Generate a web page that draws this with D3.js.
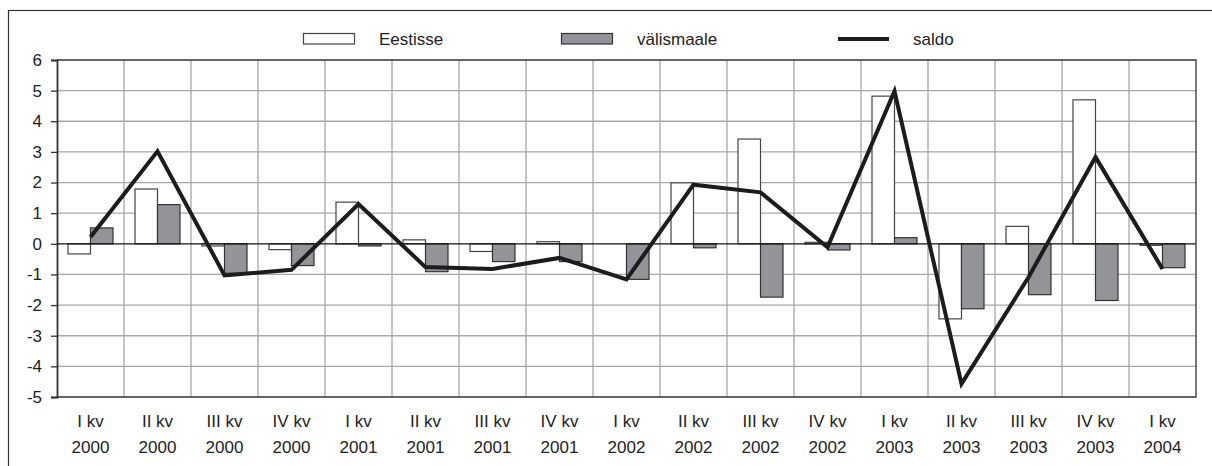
<!DOCTYPE html>
<html>
<head>
<meta charset="utf-8">
<script src="https://cdn.jsdelivr.net/npm/d3@7"></script>
<style>
  html, body { margin: 0; padding: 0; background: #fff; }
  svg { display: block; font-family: "Liberation Sans", Arial, sans-serif; }
</style>
</head>
<body>
<svg id="chart" width="1212" height="466"></svg>
<script>
const quarters = ["I kv", "II kv", "III kv", "IV kv", "I kv", "II kv", "III kv", "IV kv", "I kv", "II kv", "III kv", "IV kv", "I kv", "II kv", "III kv", "IV kv", "I kv"];
const years = ["2000", "2000", "2000", "2000", "2001", "2001", "2001", "2001", "2002", "2002", "2002", "2002", "2003", "2003", "2003", "2003", "2004"];
const eestisse = [-0.33, 1.79, -0.07, -0.19, 1.36, 0.13, -0.25, 0.07, 0, 1.99, 3.42, 0.05, 4.82, -2.45, 0.57, 4.70, -0.05];
const valismaale = [0.52, 1.28, -0.96, -0.71, -0.07, -0.91, -0.58, -0.58, -1.16, -0.13, -1.74, -0.20, 0.20, -2.12, -1.66, -1.85, -0.78];
const saldo = [0.22, 3.02, -1.03, -0.85, 1.30, -0.76, -0.82, -0.46, -1.16, 1.93, 1.68, -0.11, 4.98, -4.57, -1.09, 2.83, -0.82];
const yTicks = [6, 5, 4, 3, 2, 1, 0, -1, -2, -3, -4, -5];
const seriesNames = ["Eestisse", "välismaale", "saldo"];

const svg = d3.select("#chart");
const L = 57, R = 1196, T = 60, B = 397;
const idx = d3.range(quarters.length);

const x = d3.scaleBand().domain(idx).range([L, R]).padding(0);
const y = d3.scaleLinear().domain([-5, 6]).range([B, T]);
const half = 22.5;
const sub = d3.scaleBand().domain(["e", "v"]).range([-half, half]).padding(0);
const cx = i => x(i) + x.bandwidth() / 2;

// outer frame
svg.append("rect").attr("x", 8.5).attr("y", 10.5).attr("width", 1240).attr("height", 480)
  .attr("fill", "none").attr("stroke", "#333").attr("stroke-width", 1.2);

// horizontal gridlines
svg.append("g").selectAll("line").data(yTicks.filter(t => t !== 0 && t !== 6 && t !== -5)).join("line")
  .attr("x1", L).attr("x2", R).attr("y1", d => y(d)).attr("y2", d => y(d))
  .attr("stroke", "#a8a8a8").attr("stroke-width", 1.3);

// vertical gridlines
svg.append("g").selectAll("line").data(idx.slice(1)).join("line")
  .attr("x1", d => x(d)).attr("x2", d => x(d)).attr("y1", T).attr("y2", B)
  .attr("stroke", "#a8a8a8").attr("stroke-width", 1.3);

// plot border (top, right, bottom)
svg.append("path")
  .attr("d", `M${L},${T}H${R}V${B}H${L}`)
  .attr("fill", "none").attr("stroke", "#333").attr("stroke-width", 1.3);

// y axis
const yAxis = d3.axisLeft(y).tickValues(yTicks).tickSize(6).tickPadding(9).tickFormat(d => String(d));
const ya = svg.append("g").attr("transform", `translate(${L},0)`).call(yAxis);
ya.select(".domain").attr("stroke", "#333").attr("stroke-width", 1.8);
ya.selectAll(".tick line").attr("stroke", "#333").attr("stroke-width", 1.3);
ya.selectAll(".tick text").attr("font-size", 17).attr("fill", "#222")
  .attr("font-family", "'Liberation Sans', Arial, sans-serif");

// bars
const g = svg.append("g");
g.selectAll("rect.e").data(idx).join("rect").attr("class", "e")
  .attr("x", i => cx(i) + sub("e")).attr("width", sub.bandwidth())
  .attr("y", i => y(Math.max(0, eestisse[i])))
  .attr("height", i => Math.abs(y(eestisse[i]) - y(0)))
  .attr("fill", "#fff").attr("stroke", "#444").attr("stroke-width", 1.2);
g.selectAll("rect.v").data(idx).join("rect").attr("class", "v")
  .attr("x", i => cx(i) + sub("v")).attr("width", sub.bandwidth())
  .attr("y", i => y(Math.max(0, valismaale[i])))
  .attr("height", i => Math.abs(y(valismaale[i]) - y(0)))
  .attr("fill", "#939498").attr("stroke", "#333").attr("stroke-width", 1.2);

// zero line
svg.append("line").attr("x1", L).attr("x2", R).attr("y1", y(0)).attr("y2", y(0))
  .attr("stroke", "#111").attr("stroke-width", 1.3);

// saldo line
const line = d3.line().x(i => cx(i)).y(i => y(saldo[i]));
svg.append("path").datum(idx).attr("d", line)
  .attr("fill", "none").attr("stroke", "#1c1c1c").attr("stroke-width", 4).attr("stroke-linejoin", "miter");

// x labels
const xl = svg.append("g").attr("font-size", 17).attr("fill", "#222").attr("text-anchor", "middle");
xl.selectAll("text.q").data(idx).join("text").attr("class", "q")
  .attr("x", i => cx(i)).attr("y", 427).text(i => quarters[i]);
xl.selectAll("text.yr").data(idx).join("text").attr("class", "yr")
  .attr("x", i => cx(i)).attr("y", 453).text(i => years[i]);

// legend
const lg = svg.append("g").attr("font-size", 17).attr("fill", "#222");
lg.append("rect").attr("x", 303.5).attr("y", 33.5).attr("width", 51).attr("height", 10.5)
  .attr("fill", "#fff").attr("stroke", "#444").attr("stroke-width", 1.2);
lg.append("text").attr("x", 379).attr("y", 45).text(seriesNames[0]);
lg.append("rect").attr("x", 561.5).attr("y", 33.5).attr("width", 51).attr("height", 10.5)
  .attr("fill", "#939498").attr("stroke", "#333").attr("stroke-width", 1.2);
lg.append("text").attr("x", 637).attr("y", 45).text(seriesNames[1]);
lg.append("line").attr("x1", 838).attr("x2", 889).attr("y1", 39).attr("y2", 39)
  .attr("stroke", "#1c1c1c").attr("stroke-width", 4);
lg.append("text").attr("x", 913).attr("y", 45).text(seriesNames[2]);
</script>
</body>
</html>
